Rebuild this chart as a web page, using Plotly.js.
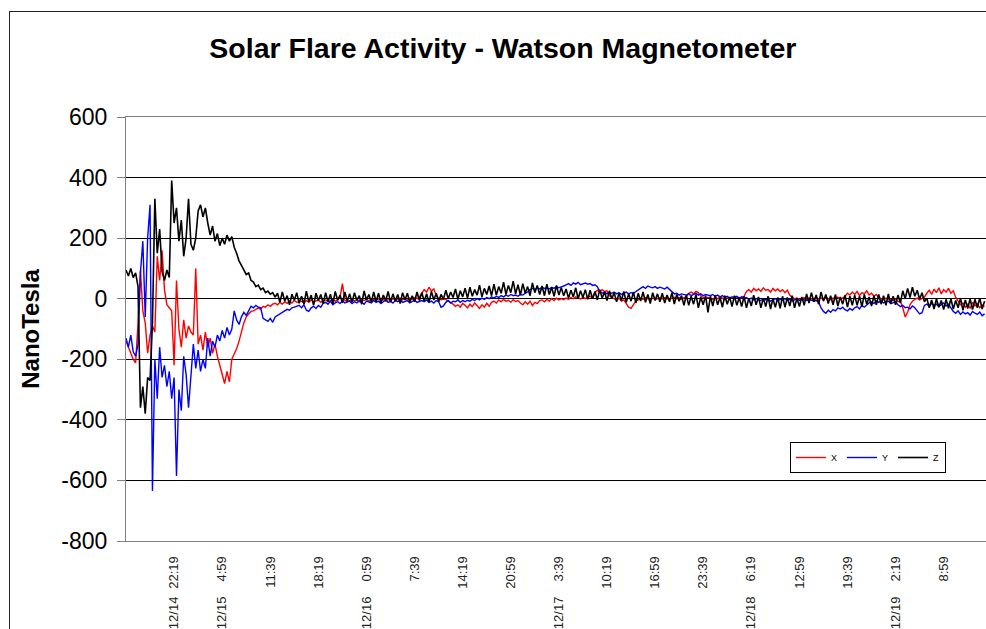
<!DOCTYPE html>
<html>
<head>
<meta charset="utf-8">
<script src="https://cdn.plot.ly/plotly-3.0.1.min.js"></script>
<style>
  html, body { margin: 0; padding: 0; background: #ffffff; overflow: hidden; }
  #wrap { position: relative; width: 986px; height: 629px; overflow: hidden; }
  #chart { position: absolute; left: 0; top: 0; width: 986px; height: 629px; }
  #frame { position: absolute; left: 9px; top: 11px; width: 2000px; height: 2000px;
           border-left: 1px solid #222; border-top: 1px solid #222; pointer-events: none; }
</style>
</head>
<body>
<div id="wrap"><div id="chart"></div><div id="frame"></div></div>
<script>
// ---- data (one sample every 20 minutes, starting 12/14 15:39) ----
const startTime = '2006-12-14 15:39';
const stepMinutes = 20;

const seriesNames = ['X', 'Y', 'Z'];

const seriesX = [
  -140, -160, -175, -200, -212, -80, 95, -40, -80, -180,
  -120, -90, -110, 140, 60, 160, 30, -20, -30, -40,
  -220, 60, -100, -160, -70, -130, -90, -110, -120, 100,
  -150, -120, -170, -110, -160, -130, -180, -150, -190, -220,
  -250, -280, -240, -275, -200, -185, -165, -140, -110, -80,
  -60, -50, -42, -40, -35, -30, -35, -25, -28, -20,
  -25, -18, -15,
  -20, -12, -18, -10, -15, -8, -14, -6, -12, -10,
  -8, -14, -6, -12, -4, -10, -8, -5, -12, -6,
  -4, -10, -6, -2, -8, -5, 5, 50, -5, -10,
  -6, -2, -8, -4, -10, -3, -6, -1, -8, -4,
  -2, -6, 0, -5, -3, -8, -2, -6, 0, -4,
  -3, 2, -4, 0, -6, 2, -2, 4, 0, 6,
  18, 30, 22, 38, 25, 32, 10, 2, -4, 0,
  -2, -8, -12, -18, -25, -20, -28, -15, -22, -30,
  -18, -26, -14, -24, -32, -20, -28, -15, -25, -12,
  -8, -14, -4, -10, -2, -8, -5, -12, -3, -9,
  -6, -14, -20, -10, -18, -8, -22, -12, -16, -6,
  -4, -10, -2, -8, 0, -6, 2, -4, 0, -3,
  2, -2, 4, 0, 6, 2, -1, 5, 0, 4,
  8, 2, 20, 28, 22, 30, 24, 26, 10, 4,
  0, -5, 2, -8, -4, -15, -28, -32, -20, -8,
  -4, 2, -2, 4, 0, -4, 2, -2, 0, 3,
  -1, 4, 0, -3, 2, 5, 0, 3, -2, 4,
  8, 18, 22, 16, 24, 20, 10, 4, 0, 5,
  2, -2, 4, 0, 6, 2, -3, 3, 0, 5,
  2, 6, 0, 4, 8, 24, 30, 22, 34, 26,
  32, 24, 36, 28, 30, 22, 34, 26, 32, 24,
  30, 20, 28, 12, 4, 0, 2, -3, 0, 4,
  -2, 2, 0, -4, 3, -1, 2, -2, 4, 0,
  -3, 2, 0, 5, -2, 3, 8, 18, 12, 22,
  14, 24, 10, 20, 16, 26, 12, 18, 8, 14,
  4, 0, -4, 2, -2, 0, -6, -2, -10, -8,
  -30, -60, -45, -20, -8, -2, 2, -4, 0, 6,
  18, 28, 14, 32, 20, 36, 16, 30, 22, 34,
  18, 26, 4, -10, -20, -14, -28, -18, -32, -12,
  -24, -16, -30, -20, -26
];

const seriesY = [
  -130, -160, -120, -175, -190, -150, 85, 190, -60, 200,
  310, -635, -200, -330, -160, -260, -220, -290, -240, -330,
  -260, -585, -300, -370, -190, -250, -360, -240, -150, -230,
  -170, -240, -200, -230, -130, -190, -140, -160, -120, -140,
  -105, -130, -95, -120, -100, -40, -70, -85, -60, -45,
  -55, -40, -25, -30, -22, -28, -30, -65, -70, -75,
  -65, -78, -60, -55, -50, -45, -40, -35, -38, -30,
  -28, -25, -22, -30, -20, -38, -42, -30, -25, -32,
  -22, -28, -15,
  -12, -18, -8, -20, -14, -10, -16, -6, -14, -12,
  -8, -16, -10, -14, -6, -12, -18, -8, -10, -14,
  -6, -12, -8, -16, -10, -5, -12, -8, -14, -6,
  -10, -4, -12, -8, -6, -14, -10, -5, -12, -8,
  -6, -10, -4, -12, -8, -14, -6, -10, -28, -24,
  -12, -6, -14, -8, -10, -4, -12, -6, -10, -5,
  -8, -2, -6, 0, -4, 2, -2, 4, 0, 6,
  2, 8, 4, 10, 6, 12, 8, 14, 10, 12,
  8, 14, 12, 18, 22, 30, 34, 30, 36, 32,
  38, 34, 36, 32, 38, 34, 40, 36, 38, 42,
  46, 50, 44, 52, 48, 54, 46, 50, 52, 48,
  50, 44, 46, 40, 24, 18, 22, 16, 20, 18,
  22, 16, 20, 14, 18, 22, 16, 20, 18, 24,
  30, 36, 40, 34, 42, 38, 36, 40, 34, 38,
  36, 32, 38, 30, 22, 16, 18, 12, 16, 14,
  12, 16, 10, 14, 18, 12, 16, 10, 14, 12,
  10, 14, 8, 12, 6, 10, 4, 8, 2, 6,
  4, 8, 2, 6, 0, 4, -2, 2, -4, 0,
  -2, -6, 0, -4, -2, -8, -4, 0, -6, -2,
  -4, 0, -6, -2, -8, -4, 0, -6, -2, -4,
  -6, -2, -4, -8, -6, -10, -30, -42, -48, -38,
  -45, -36, -40, -30, -34, -28, -36, -40, -32, -38,
  -30, -26, -34, -22, -28, -20, -14, -10, -16, -8,
  -12, -6, -14, -10, -8, -16, -12, -10, -20, -26,
  -22, -30, -28, -34, -24, -30, -40, -50, -46, -22,
  -18, -24, -16, -22, -18, -26, -20, -14, -24, -18,
  -30, -42, -48, -40, -52, -44, -50, -46, -54, -42,
  -48, -52, -44, -56, -50
];

const seriesZ = [
  95, 75, 100, 70, 85, 40, -360, -290, -380, -260,
  -270, -80, 330, 150, 230, 90, 60, 95, 70, 390,
  250, 300, 190, 260, 140, 200, 330, 180, 160, 200,
  290, 310, 270, 300, 250, 210, 240, 190, 215, 175,
  200, 180, 210, 190, 205, 170, 150, 125, 110, 95,
  80, 85, 60, 55, 40, 45, 30, 35, 20, 25,
  15, 20, 5,
  18, -12, 22, -8, 10, -20, 15, -5, 20, -15,
  8, -18, 25, -10, 12, -22, 18, -6, 14, -16,
  20, -10, 15, -18, 24, -5, 12, -14, 22, -8,
  16, -12, 20, -6, 10, -18, 26, -4, 14, -12,
  22, -10, 18, -14, 12, -6, 24, -12, 16, -8,
  14, -16, 20, -4, 18, -12, 10, -10, 22, -6,
  20, -8, 16, -12, 24, -4, 18, -10, 14, -2,
  28, 0, 22, 4, 32, -2, 26, 6, 35, 2,
  38, 8, 30, 12, 45, 6, 34, 14, 42, 10,
  48, 12, 40, 18, 55, 14, 44, 20, 58, 16,
  46, 12, 50, 18, 40, 10, 52, 20, 44, 14,
  42, 10, 48, 14, 38, 8, 44, 12, 36, 10,
  32, 2, 28, 6, 36, 0, 26, 4, 30, -2,
  28, 0, 24, -4, 30, 2, 22, -6, 26, 0,
  20, -10, 18, -6, 24, -12, 16, -8, 22, -14,
  18, -8, 22, -12, 14, -16, 20, -6, 16, -10,
  18, -14, 12, -10, 20, -18, 14, -8, 10, -22,
  12, -22, 8, -18, 14, -30, 6, -20, 10, -45,
  8, -24, 12, -20, 4, -28, 10, -18, 6, -26,
  10, -22, 4, -26, 8, -30, 2, -24, 12, -20,
  6, -30, 2, -26, 8, -34, 0, -28, 4, -32,
  8, -28, 4, -24, 10, -30, 2, -26, 6, -22,
  16, -14, 20, -10, 12, -18, 22, -8, 14, -16,
  10, -20, 14, -24, 6, -18, 12, -28, 8, -22,
  12, -22, 8, -26, 14, -18, 6, -24, 10, -20,
  14, -18, 10, -22, 16, -16, 8, -20, 12, -14,
  26, 0, 34, 4, 38, 8, 28, -2, 20, -10,
  2, -30, -4, -34, 0, -28, -6, -36, -2, -32,
  0, -34, -6, -30, 2, -38, -4, -32, 0, -36,
  -2, -30, 2, -34, -8
];

// x-axis tick labels (every 400 minutes)
const timeTickValues = [
  '2006-12-14 22:19', '2006-12-15 04:59', '2006-12-15 11:39', '2006-12-15 18:19',
  '2006-12-16 00:59', '2006-12-16 07:39', '2006-12-16 14:19', '2006-12-16 20:59',
  '2006-12-17 03:39', '2006-12-17 10:19', '2006-12-17 16:59', '2006-12-17 23:39',
  '2006-12-18 06:19', '2006-12-18 12:59', '2006-12-18 19:39', '2006-12-19 02:19',
  '2006-12-19 08:59'
];
const timeTickLabels = [
  '22:19', '4:59', '11:39', '18:19', '0:59', '7:39', '14:19', '20:59',
  '3:39', '10:19', '16:59', '23:39', '6:19', '12:59', '19:39', '2:19', '8:59'
];
const dateTickValues = [
  '2006-12-14 22:19', '2006-12-15 04:59', '2006-12-16 00:59',
  '2006-12-17 03:39', '2006-12-18 06:19', '2006-12-19 02:19'
];
const dateTickLabels = ['12/14', '12/15', '12/16', '12/17', '12/18', '12/19'];

const xRange = ['2006-12-14 15:39', '2006-12-19 14:51'];
const yTickValues = [600, 400, 200, 0, -200, -400, -600, -800];
const yTickLabels = ['600', '400', '200', '0', '-200', '-400', '-600', '-800'];

// ---- chart ----
const FONT = 'Liberation Sans, Arial, Helvetica, sans-serif';
const colors = { X: '#ff0000', Y: '#0000ff', Z: '#000000' };
const widths = { X: 1.4, Y: 1.4, Z: 1.6 };
const seriesData = { X: seriesX, Y: seriesY, Z: seriesZ };

const traces = seriesNames.map(n => ({
  type: 'scatter',
  mode: 'lines',
  name: n,
  y: seriesData[n],
  x0: startTime,
  dx: stepMinutes * 60 * 1000,
  line: { color: colors[n], width: widths[n] },
  hoverinfo: 'skip'
}));

// empty helper trace so the second (date-label) axis is drawn
traces.push({
  type: 'scatter', mode: 'lines', x: xRange, y: [null, null],
  xaxis: 'x2', yaxis: 'y', showlegend: false, hoverinfo: 'skip'
});

const layout = {
  width: 986,
  height: 629,
  margin: { l: 126, r: 0, t: 117, b: 88 },
  paper_bgcolor: '#ffffff',
  plot_bgcolor: '#ffffff',
  font: { family: FONT, color: '#000000' },
  title: {
    text: 'Solar Flare Activity - Watson Magnetometer',
    font: { family: FONT, size: 28.5, weight: 'bold', color: '#000000' },
    xref: 'container', yref: 'container',
    x: 0.51, y: 1 - 48 / 629, xanchor: 'center', yanchor: 'middle'
  },
  xaxis: {
    type: 'date',
    range: xRange,
    showgrid: false,
    zeroline: false,
    showline: true,
    linecolor: '#808080',
    linewidth: 1,
    mirror: true,
    ticks: '',
    tickmode: 'array',
    tickvals: timeTickValues,
    ticktext: timeTickLabels,
    tickangle: -90,
    tickfont: { family: FONT, size: 13, color: '#222222' },
    ticklabelstandoff: 9
  },
  xaxis2: {
    type: 'date',
    overlaying: 'x',
    range: xRange,
    anchor: 'y',
    side: 'bottom',
    showgrid: false,
    zeroline: false,
    showline: false,
    ticks: '',
    tickmode: 'array',
    tickvals: dateTickValues,
    ticktext: dateTickLabels,
    tickangle: -90,
    tickfont: { family: FONT, size: 13, color: '#222222' },
    ticklabelstandoff: 52
  },
  yaxis: {
    range: [-800, 600],
    tickmode: 'array',
    tickvals: yTickValues,
    ticktext: yTickLabels,
    showgrid: true,
    gridcolor: '#000000',
    gridwidth: 1,
    zeroline: false,
    showline: true,
    linecolor: '#808080',
    linewidth: 1,
    ticks: 'outside',
    ticklen: 8,
    tickcolor: '#808080',
    tickfont: { family: FONT, size: 23, color: '#000000' },
    ticklabelstandoff: 5,
    title: {
      text: 'NanoTesla',
      font: { family: FONT, size: 24, weight: 'bold', color: '#000000' },
      standoff: 14
    }
  },
  showlegend: true,
  legend: {
    orientation: 'h',
    x: (790 - 126) / 860,
    y: (541 - 442) / 424,
    xanchor: 'left',
    yanchor: 'top',
    bgcolor: '#ffffff',
    bordercolor: '#000000',
    borderwidth: 1,
    font: { family: FONT, size: 9, color: '#000000' },
    itemwidth: 30,
    tracegroupgap: 0
  }
};

Plotly.newPlot('chart', traces, layout, { displayModeBar: false, staticPlot: true });
</script>
</body>
</html>
